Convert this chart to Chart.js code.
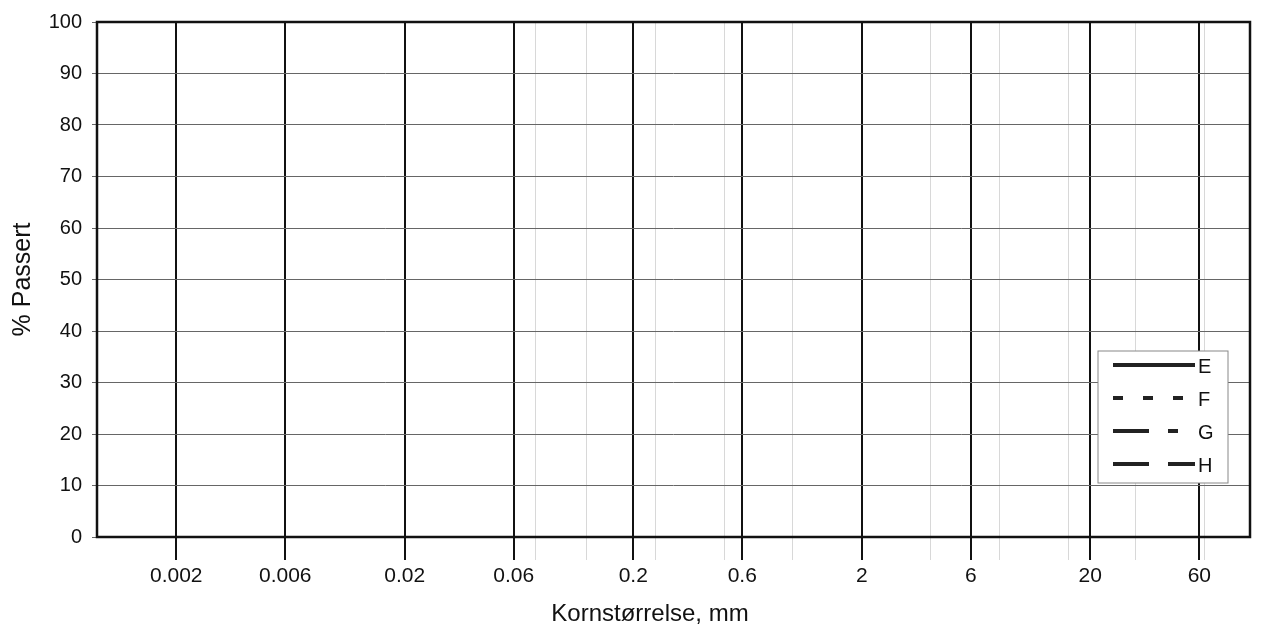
<!DOCTYPE html>
<html>
<head>
<meta charset="utf-8">
<script src="https://cdn.jsdelivr.net/npm/chart.js@4.4.1/dist/chart.umd.min.js"></script>
<style>
    html, body { margin: 0; padding: 0; background: #fff; }
    #wrap { width: 1265px; height: 629px; }
</style>
</head>
<body>
<div id="wrap"><canvas id="grading"></canvas></div>
<script>
// --- Data (blank grading form: legend only, no curves) ---
const seriesLabels = ['E', 'F', 'G', 'H'];
const seriesDash = [[], [10, 20], [36, 19, 10, 200], [36, 19, 28, 19]];
const seriesValues = [[], [], [], []];

const sizeTicks = [0.002, 0.006, 0.02, 0.06, 0.2, 0.6, 2, 6, 20, 60];
const sieveSizes = [0.075, 0.125, 0.25, 0.5, 1, 4, 8, 16, 31.5, 63];
const xMin = 0.0009;
const xMax = 100;
const passTicks = [0, 10, 20, 30, 40, 50, 60, 70, 80, 90, 100];

const FONT = "'Liberation Sans', Arial, sans-serif";
const isMajor = v => sizeTicks.includes(v);

// --- Frame, x title and legend box ---
const framePlugin = {
    id: 'frame',
    afterDraw(chart) {
        const ctx = chart.ctx;
        const a = chart.chartArea;
        ctx.save();
        ctx.strokeStyle = '#111';
        ctx.lineWidth = 2.5;
        ctx.strokeRect(a.left, a.top, a.right - a.left, a.bottom - a.top);

        // x axis title sits a bit left of centre on the form
        ctx.fillStyle = '#111';
        ctx.font = '24px ' + FONT;
        ctx.textAlign = 'center';
        ctx.textBaseline = 'middle';
        ctx.fillText('Kornstørrelse, mm', a.left + 553, 614);

        // legend box
        const bx = a.right - 152, by = a.top + 329, bw = 130, bh = 132;
        ctx.fillStyle = '#fff';
        ctx.fillRect(bx, by, bw, bh);
        ctx.strokeStyle = '#888';
        ctx.lineWidth = 1;
        ctx.strokeRect(bx, by, bw, bh);

        ctx.font = '20px ' + FONT;
        ctx.textAlign = 'left';
        chart.data.datasets.forEach((ds, i) => {
            const y = by + 14 + i * 33;
            ctx.strokeStyle = '#222';
            ctx.lineWidth = 4;
            ctx.setLineDash(ds.borderDash);
            ctx.beginPath();
            ctx.moveTo(bx + 15, y);
            ctx.lineTo(bx + 97, y);
            ctx.stroke();
            ctx.setLineDash([]);
            ctx.fillStyle = '#111';
            ctx.fillText(ds.label, bx + 100, y + 2);
        });
        ctx.restore();
    }
};

new Chart(document.getElementById('grading'), {
    type: 'line',
    data: {
        datasets: seriesLabels.map((label, i) => ({
            label: label,
            data: seriesValues[i],
            borderColor: '#222',
            borderWidth: 3,
            borderDash: seriesDash[i],
            pointRadius: 0
        }))
    },
    options: {
        responsive: true,
        maintainAspectRatio: false,
        animation: false,
        layout: { padding: { top: 20, right: 15, left: 0, bottom: 0 } },
        plugins: { legend: { display: false }, tooltip: { enabled: false } },
        scales: {
            x: {
                type: 'logarithmic',
                min: xMin,
                max: xMax,
                bounds: 'data',
                afterBuildTicks: scale => {
                    scale.ticks = sizeTicks.concat(sieveSizes).sort((a, b) => a - b).map(v => ({ value: v }));
                },
                afterFit: scale => { scale.height = 92; },
                ticks: {
                    autoSkip: false,
                    maxRotation: 0,
                    padding: 4,
                    color: '#111',
                    font: { family: FONT, size: 21 },
                    callback: value => isMajor(value) ? String(value) : ''
                },
                grid: {
                    color: c => isMajor(c.tick.value) ? '#111' : '#d8d8d8',
                    lineWidth: c => isMajor(c.tick.value) ? 2 : 1,
                    tickColor: c => isMajor(c.tick.value) ? '#111' : '#d8d8d8',
                    tickWidth: c => isMajor(c.tick.value) ? 2 : 1,
                    tickLength: 23
                },
                border: { display: false }
            },
            y: {
                min: 0,
                max: 100,
                afterBuildTicks: scale => { scale.ticks = passTicks.map(v => ({ value: v })); },
                afterFit: scale => { scale.width = 97; },
                ticks: {
                    padding: 10,
                    color: '#111',
                    font: { family: FONT, size: 20 }
                },
                grid: { color: '#666', lineWidth: 1, tickLength: 5 },
                border: { display: false },
                title: {
                    display: true,
                    text: '% Passert',
                    color: '#111',
                    font: { family: FONT, size: 25 },
                    padding: { top: 8, bottom: 0 }
                }
            }
        }
    },
    plugins: [framePlugin]
});
</script>
</body>
</html>
